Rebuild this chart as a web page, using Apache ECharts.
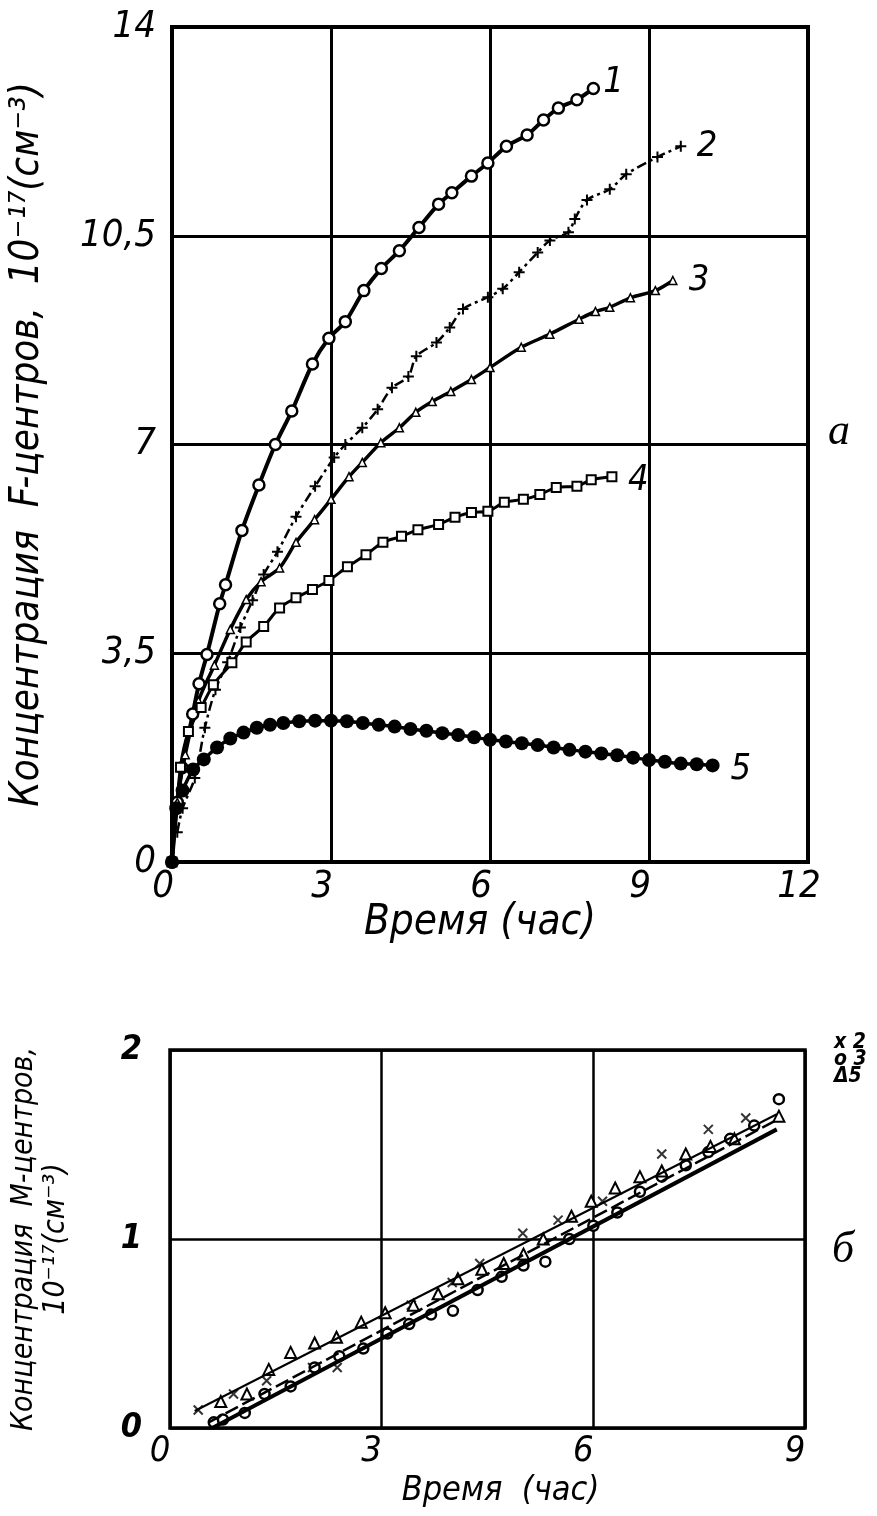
<!DOCTYPE html>
<html><head><meta charset="utf-8">
<script src="https://cdn.jsdelivr.net/npm/echarts@6/dist/echarts.min.js"></script>
<style>html,body{margin:0;padding:0;background:#fff}#c{width:877px;height:1516px}</style>
</head><body><div id="c"></div>
<script>
// ---- Top chart (a): F-centre concentration vs time ----
const topXTicks = [0, 3, 6, 9, 12];
const topYTicks = [0, 3.5, 7, 10.5, 14];
const curve1 = [[0,0],[0.1,1.0],[0.19,1.58],[0.39,2.48],[0.51,2.99],[0.66,3.48],[0.9,4.33],[1.01,4.65],[1.32,5.56],[1.64,6.32],[1.95,7.0],[2.26,7.56],[2.65,8.35],[2.96,8.78],[3.27,9.06],[3.62,9.58],[3.95,9.95],[4.29,10.25],[4.66,10.64],[5.03,11.03],[5.28,11.22],[5.65,11.5],[5.96,11.72],[6.31,12.0],[6.7,12.19],[7.01,12.44],[7.29,12.64],[7.64,12.78],[7.95,12.97]];
const curve2 = [[0.1,0.5],[0.2,0.9],[0.43,1.41],[0.62,2.25],[0.82,2.89],[1.05,3.35],[1.29,3.93],[1.52,4.39],[1.73,4.82],[1.99,5.2],[2.34,5.79],[2.7,6.3],[3.06,6.78],[3.27,7.0],[3.59,7.28],[3.88,7.59],[4.15,7.95],[4.46,8.14],[4.61,8.48],[4.99,8.71],[5.24,8.96],[5.49,9.27],[5.96,9.47],[6.24,9.61],[6.55,9.89],[6.9,10.22],[7.13,10.42],[7.48,10.56],[7.6,10.78],[7.83,11.1],[8.26,11.28],[8.57,11.53],[9.16,11.82],[9.6,12.0]];
const curve3 = [[0,0],[0.1,1.0],[0.25,1.8],[0.5,2.7],[0.8,3.3],[1.1,3.9],[1.4,4.4],[1.68,4.7],[2.03,4.93],[2.34,5.36],[2.69,5.74],[3.0,6.08],[3.34,6.46],[3.59,6.7],[3.94,7.03],[4.29,7.28],[4.6,7.54],[4.91,7.72],[5.26,7.89],[5.65,8.09],[6.0,8.29],[6.59,8.63],[7.13,8.85],[7.68,9.1],[7.99,9.23],[8.26,9.3],[8.65,9.46],[9.12,9.58],[9.45,9.75]];
const curve4 = [[0,0],[0.16,1.59],[0.31,2.19],[0.55,2.59],[0.78,2.97],[1.13,3.34],[1.4,3.69],[1.73,3.95],[2.03,4.26],[2.34,4.43],[2.65,4.57],[2.96,4.72],[3.31,4.95],[3.66,5.15],[3.98,5.36],[4.33,5.46],[4.64,5.57],[5.03,5.66],[5.34,5.78],[5.65,5.86],[5.96,5.88],[6.27,6.03],[6.63,6.08],[6.94,6.16],[7.25,6.28],[7.64,6.3],[7.91,6.41],[8.3,6.46]];
const curve5 = [[0,0],[0.08,0.9],[0.2,1.2],[0.4,1.55],[0.6,1.72],[0.85,1.92],[1.1,2.07],[1.35,2.17],[1.6,2.25],[1.85,2.3],[2.1,2.33],[2.4,2.36],[2.7,2.37],[3.0,2.37],[3.3,2.36],[3.6,2.33],[3.9,2.3],[4.2,2.27],[4.5,2.23],[4.8,2.2],[5.1,2.16],[5.4,2.13],[5.7,2.09],[6.0,2.05],[6.3,2.02],[6.6,1.99],[6.9,1.96],[7.2,1.92],[7.5,1.88],[7.8,1.85],[8.1,1.82],[8.4,1.79],[8.7,1.75],[9.0,1.71],[9.3,1.68],[9.6,1.65],[9.9,1.64],[10.2,1.62]];
const curveNames = ['1','2','3','4','5'];

// ---- Bottom chart (б): M-centre concentration vs time ----
const botXTicks = [0, 3, 6, 9];
const botYTicks = [0, 1, 2];
const pts2 = [[0.4,0.095],[0.9,0.18],[1.37,0.25],[2.02,0.32],[2.37,0.32],[3.42,0.65],[4.0,0.77],[4.39,0.87],[5.0,1.03],[5.5,1.1],[6.13,1.2],[6.97,1.45],[7.63,1.58],[8.16,1.64]];
const pts3 = [[0.62,0.03],[0.75,0.045],[1.06,0.08],[1.34,0.18],[1.71,0.22],[2.05,0.32],[2.4,0.38],[2.74,0.42],[3.08,0.5],[3.39,0.55],[3.7,0.6],[4.01,0.62],[4.36,0.73],[4.7,0.8],[5.01,0.86],[5.32,0.88],[5.66,1.0],[6.0,1.07],[6.34,1.14],[6.66,1.25],[6.97,1.33],[7.31,1.39],[7.63,1.46],[7.94,1.53],[8.28,1.6],[8.63,1.74]];
const pts5 = [[0.72,0.14],[1.09,0.18],[1.4,0.31],[1.71,0.4],[2.05,0.45],[2.36,0.48],[2.71,0.56],[3.05,0.61],[3.45,0.65],[3.8,0.71],[4.08,0.79],[4.42,0.84],[4.73,0.87],[5.01,0.92],[5.29,1.0],[5.69,1.12],[5.97,1.2],[6.31,1.27],[6.66,1.33],[6.97,1.36],[7.31,1.45],[7.66,1.49],[8.0,1.53],[8.63,1.65]];
const fit2 = [[0.35,0.09],[8.6,1.66]];
const fit5 = [[0.55,0.03],[8.6,1.63]];
const fit3 = [[0.6,0.0],[8.6,1.58]];

const FONT = "'Liberation Sans Narrow','DejaVu Sans Condensed',sans-serif";
const K = '#000';
const crossPlus = 'path://M5,0L5,10M0,5L10,5';
const crossX = 'path://M0,0L10,10M10,0L0,10';
const comma = v => String(v).replace('.', ',');

const chart = echarts.init(document.getElementById('c'), null, {renderer: 'canvas'});

function endLbl(txt, off) {
  return {show: true, formatter: txt, color: K, fontFamily: FONT, fontStyle: 'italic', fontSize: 36, offset: off, distance: 6};
}

const option = {
  backgroundColor: '#fff',
  animation: false,
  grid: [
    {left: 168, right: 69, top: 27, height: 835, show: true, borderColor: K, borderWidth: 4, backgroundColor: 'transparent'},
    {left: 158, right: 72, top: 1050, height: 378, show: true, borderColor: K, borderWidth: 3.5, backgroundColor: 'transparent'}
  ],
  xAxis: [
    {gridIndex: 0, type: 'value', min: topXTicks[0], max: topXTicks[topXTicks.length-1], interval: 3,
     axisLine: {show: false}, axisTick: {show: false},
     splitLine: {show: true, lineStyle: {color: K, width: 3}},
     axisLabel: {color: K, fontFamily: FONT, fontStyle: 'italic', fontSize: 38, margin: 6, padding: [0, 18, 0, 0]},
     name: 'Время (час)', nameLocation: 'middle', nameGap: 40, nameMoveOverlap: false,
     nameTextStyle: {color: K, fontFamily: FONT, fontStyle: 'italic', fontSize: 42, padding: [0, 20, 0, 0]}},
    {gridIndex: 1, type: 'value', min: botXTicks[0], max: botXTicks[botXTicks.length-1], interval: 3,
     axisLine: {show: false}, axisTick: {show: false},
     splitLine: {show: true, lineStyle: {color: K, width: 2.5}},
     axisLabel: {color: K, fontFamily: FONT, fontStyle: 'italic', fontSize: 36, margin: 6, padding: [0, 20, 0, 0]},
     name: 'Время  (час)', nameLocation: 'middle', nameGap: 46, nameMoveOverlap: false,
     nameTextStyle: {color: K, fontFamily: FONT, fontStyle: 'italic', fontSize: 34, padding: [0, 0, 0, 26]}}
  ],
  yAxis: [
    {gridIndex: 0, type: 'value', min: topYTicks[0], max: topYTicks[topYTicks.length-1], interval: 3.5,
     axisLine: {show: false}, axisTick: {show: false},
     splitLine: {show: true, lineStyle: {color: K, width: 3}},
     axisLabel: {color: K, fontFamily: FONT, fontStyle: 'italic', fontSize: 38, margin: 16, formatter: comma},
     name: 'Концентрация  F-центров,  10⁻¹⁷(см⁻³)', nameLocation: 'middle', nameGap: 124, nameRotate: 90, nameMoveOverlap: false,
     nameTextStyle: {color: K, fontFamily: FONT, fontStyle: 'italic', fontSize: 40}},
    {gridIndex: 1, type: 'value', min: botYTicks[0], max: botYTicks[botYTicks.length-1], interval: 1,
     axisLine: {show: false}, axisTick: {show: false},
     splitLine: {show: true, lineStyle: {color: K, width: 2.5}},
     axisLabel: {color: K, fontFamily: FONT, fontStyle: 'italic', fontWeight: 'bold', fontSize: 34, margin: 28},
     name: 'Концентрация  М-центров,\n10⁻¹⁷(см⁻³)', nameLocation: 'middle', nameGap: 98, nameRotate: 90, nameMoveOverlap: false,
     nameTextStyle: {color: K, fontFamily: FONT, fontStyle: 'italic', fontSize: 30, lineHeight: 32}}
  ],
  series: [
    {type: 'line', xAxisIndex: 0, yAxisIndex: 0, data: curve1, smooth: 0.3,
     lineStyle: {color: K, width: 4}, symbol: 'circle', symbolSize: 11,
     itemStyle: {color: '#fff', borderColor: K, borderWidth: 2.5}, endLabel: endLbl(curveNames[0], [4, -6])},
    {type: 'line', xAxisIndex: 0, yAxisIndex: 0, data: curve2, smooth: 0.3,
     lineStyle: {color: K, width: 2.5, type: [10, 4, 3, 4]}, symbol: crossPlus, symbolSize: 11,
     itemStyle: {color: 'none', borderColor: K, borderWidth: 2}, endLabel: endLbl(curveNames[1], [10, 0])},
    {type: 'line', xAxisIndex: 0, yAxisIndex: 0, data: curve3, smooth: 0.3,
     lineStyle: {color: K, width: 3.5}, symbol: 'triangle', symbolSize: 8,
     itemStyle: {color: '#fff', borderColor: K, borderWidth: 1.5}, endLabel: endLbl(curveNames[2], [10, 0])},
    {type: 'line', xAxisIndex: 0, yAxisIndex: 0, data: curve4, smooth: 0.3,
     lineStyle: {color: K, width: 3}, symbol: 'rect', symbolSize: 9,
     itemStyle: {color: '#fff', borderColor: K, borderWidth: 2}, endLabel: endLbl(curveNames[3], [10, 4])},
    {type: 'line', xAxisIndex: 0, yAxisIndex: 0, data: curve5, smooth: 0.3,
     lineStyle: {color: K, width: 3.5}, symbol: 'circle', symbolSize: 14,
     itemStyle: {color: K, borderColor: K, borderWidth: 0}, endLabel: endLbl(curveNames[4], [12, 4])},

    {type: 'line', xAxisIndex: 1, yAxisIndex: 1, data: fit2, showSymbol: false, symbol: 'none',
     lineStyle: {color: K, width: 2}},
    {type: 'line', xAxisIndex: 1, yAxisIndex: 1, data: fit5, showSymbol: false, symbol: 'none',
     lineStyle: {color: K, width: 2.5, type: [14, 5]}},
    {type: 'line', xAxisIndex: 1, yAxisIndex: 1, data: fit3, showSymbol: false, symbol: 'none',
     lineStyle: {color: K, width: 4}},
    {type: 'scatter', xAxisIndex: 1, yAxisIndex: 1, data: pts2, symbol: crossX, symbolSize: 9,
     itemStyle: {color: 'none', borderColor: K, borderWidth: 2}},
    {type: 'scatter', xAxisIndex: 1, yAxisIndex: 1, data: pts3, symbol: 'circle', symbolSize: 10,
     itemStyle: {color: '#fff', borderColor: K, borderWidth: 2.5, opacity: 1}},
    {type: 'scatter', xAxisIndex: 1, yAxisIndex: 1, data: pts5, symbol: 'triangle', symbolSize: 11,
     itemStyle: {color: '#fff', borderColor: K, borderWidth: 2, opacity: 1}}
  ],
  graphic: [
    {type: 'text', left: 828, top: 410, style: {text: 'а', fill: K, font: "italic 44px 'Liberation Serif', serif"}},
    {type: 'text', left: 832, top: 1228, style: {text: 'б', fill: K, font: "italic 44px 'Liberation Serif', serif"}},
    {type: 'text', left: 834, top: 1032, style: {text: 'x 2\no 3\nΔ5', fill: K, font: "italic bold 21px " + FONT, lineHeight: 17}}
  ]
};
chart.setOption(option);
</script>
</body></html>
